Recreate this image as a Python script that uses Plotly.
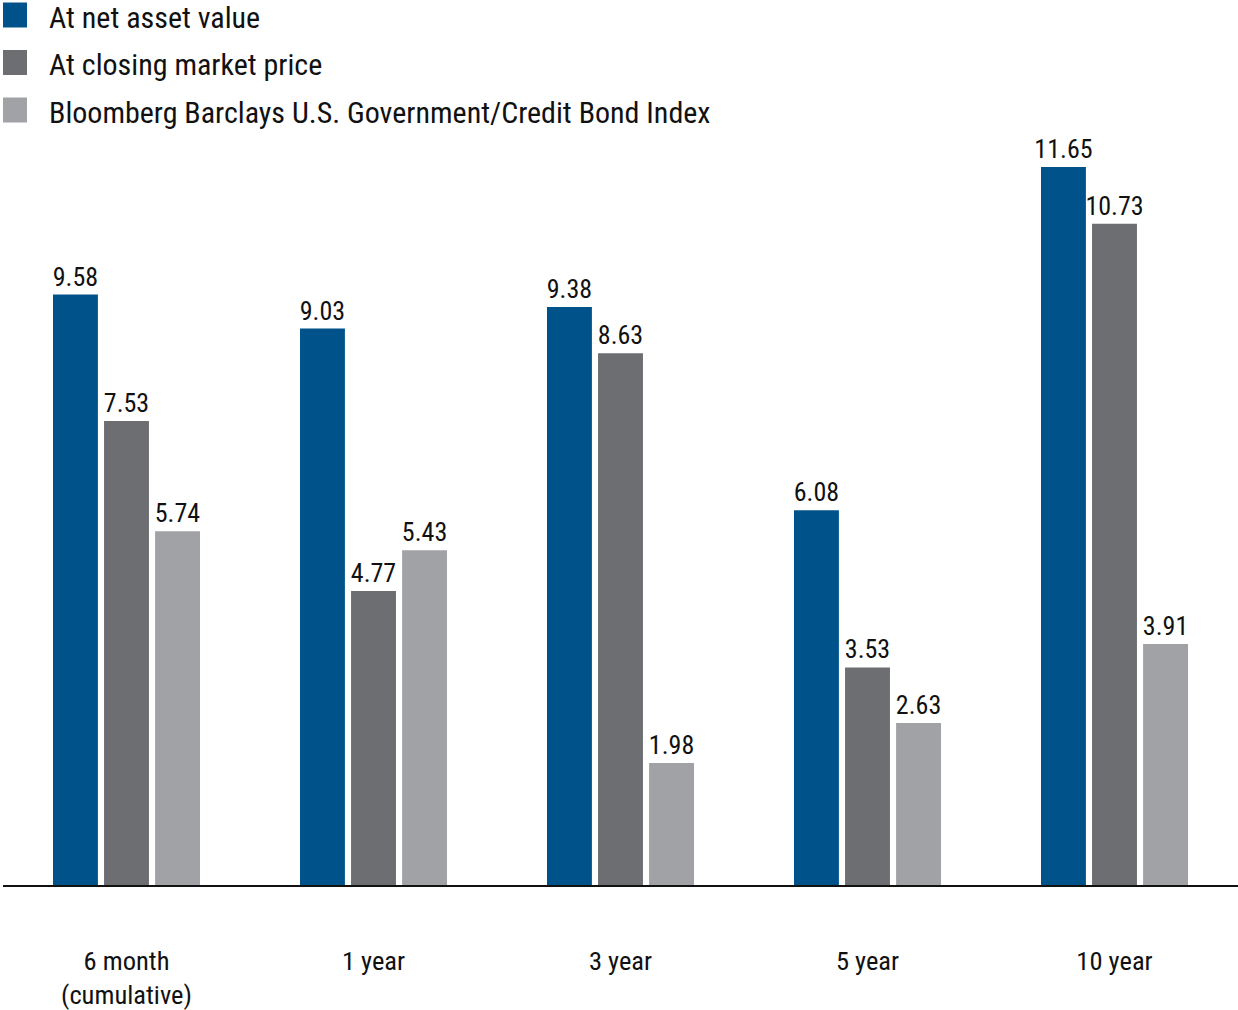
import plotly.graph_objects as go

categories = ["6 month<br>(cumulative)", "1 year", "3 year", "5 year", "10 year"]
series_names = ["At net asset value", "At closing market price",
                "Bloomberg Barclays U.S. Government/Credit Bond Index"]
nav = [9.58, 9.03, 9.38, 6.08, 11.65]
market = [7.53, 4.77, 8.63, 3.53, 10.73]
index_vals = [5.74, 5.43, 1.98, 2.63, 3.91]
colors = ["#00538a", "#6d6e72", "#a1a2a6"]

W, H = 1238, 1010
ML, MR, MT, MB = 3, 0, 135, 125
FONT = "Roboto Condensed, DejaVu Sans Condensed, Liberation Sans Narrow, sans-serif"

fig = go.Figure()
for name, vals, c in zip(series_names, [nav, market, index_vals], colors):
    fig.add_trace(go.Bar(
        x=categories, y=vals, name=name, marker_color=c, marker_line_width=0,
        text=[f"{v:.2f}" for v in vals], textposition="outside", constraintext="none",
        textfont=dict(size=26, color="#111111", family=FONT),
        cliponaxis=False, showlegend=False,
    ))

pw, ph = W - ML - MR, H - MT - MB
def px2paper(x, y):
    return (x - ML) / pw, (H - MB - y) / ph

for i, (name, c) in enumerate(zip(series_names, colors)):
    cy = 17 + i * 47.5
    sq = cy - 2
    x0, y0 = px2paper(3, sq + 12.5)
    x1, y1 = px2paper(27, sq - 12.5)
    fig.add_shape(type="rect", xref="paper", yref="paper", x0=x0, x1=x1, y0=y0, y1=y1,
                  fillcolor=c, line_width=0)
    tx, ty = px2paper(47, cy)
    fig.add_annotation(xref="paper", yref="paper", x=tx, y=ty, text=name, showarrow=False,
                       xanchor="left", yanchor="middle",
                       font=dict(size=30, color="#111111", family=FONT))

fig.update_layout(
    width=W, height=H, barmode="group", bargap=0.38, bargroupgap=0.12,
    margin=dict(l=ML, r=MR, t=MT, b=MB),
    plot_bgcolor="white", paper_bgcolor="white",
    font=dict(family=FONT, color="#111111"),
    xaxis=dict(showline=True, linecolor="#111111", linewidth=2, ticks="",
               automargin=False, ticklabelstandoff=51,
               tickfont=dict(size=26.5, family=FONT, color="#111111")),
    yaxis=dict(range=[0, 12.17], visible=False, showgrid=False, zeroline=False,
               automargin=False),
)
fig.write_html("out.html", config={"displayModeBar": False},
               post_script="document.body.style.margin='0';")
